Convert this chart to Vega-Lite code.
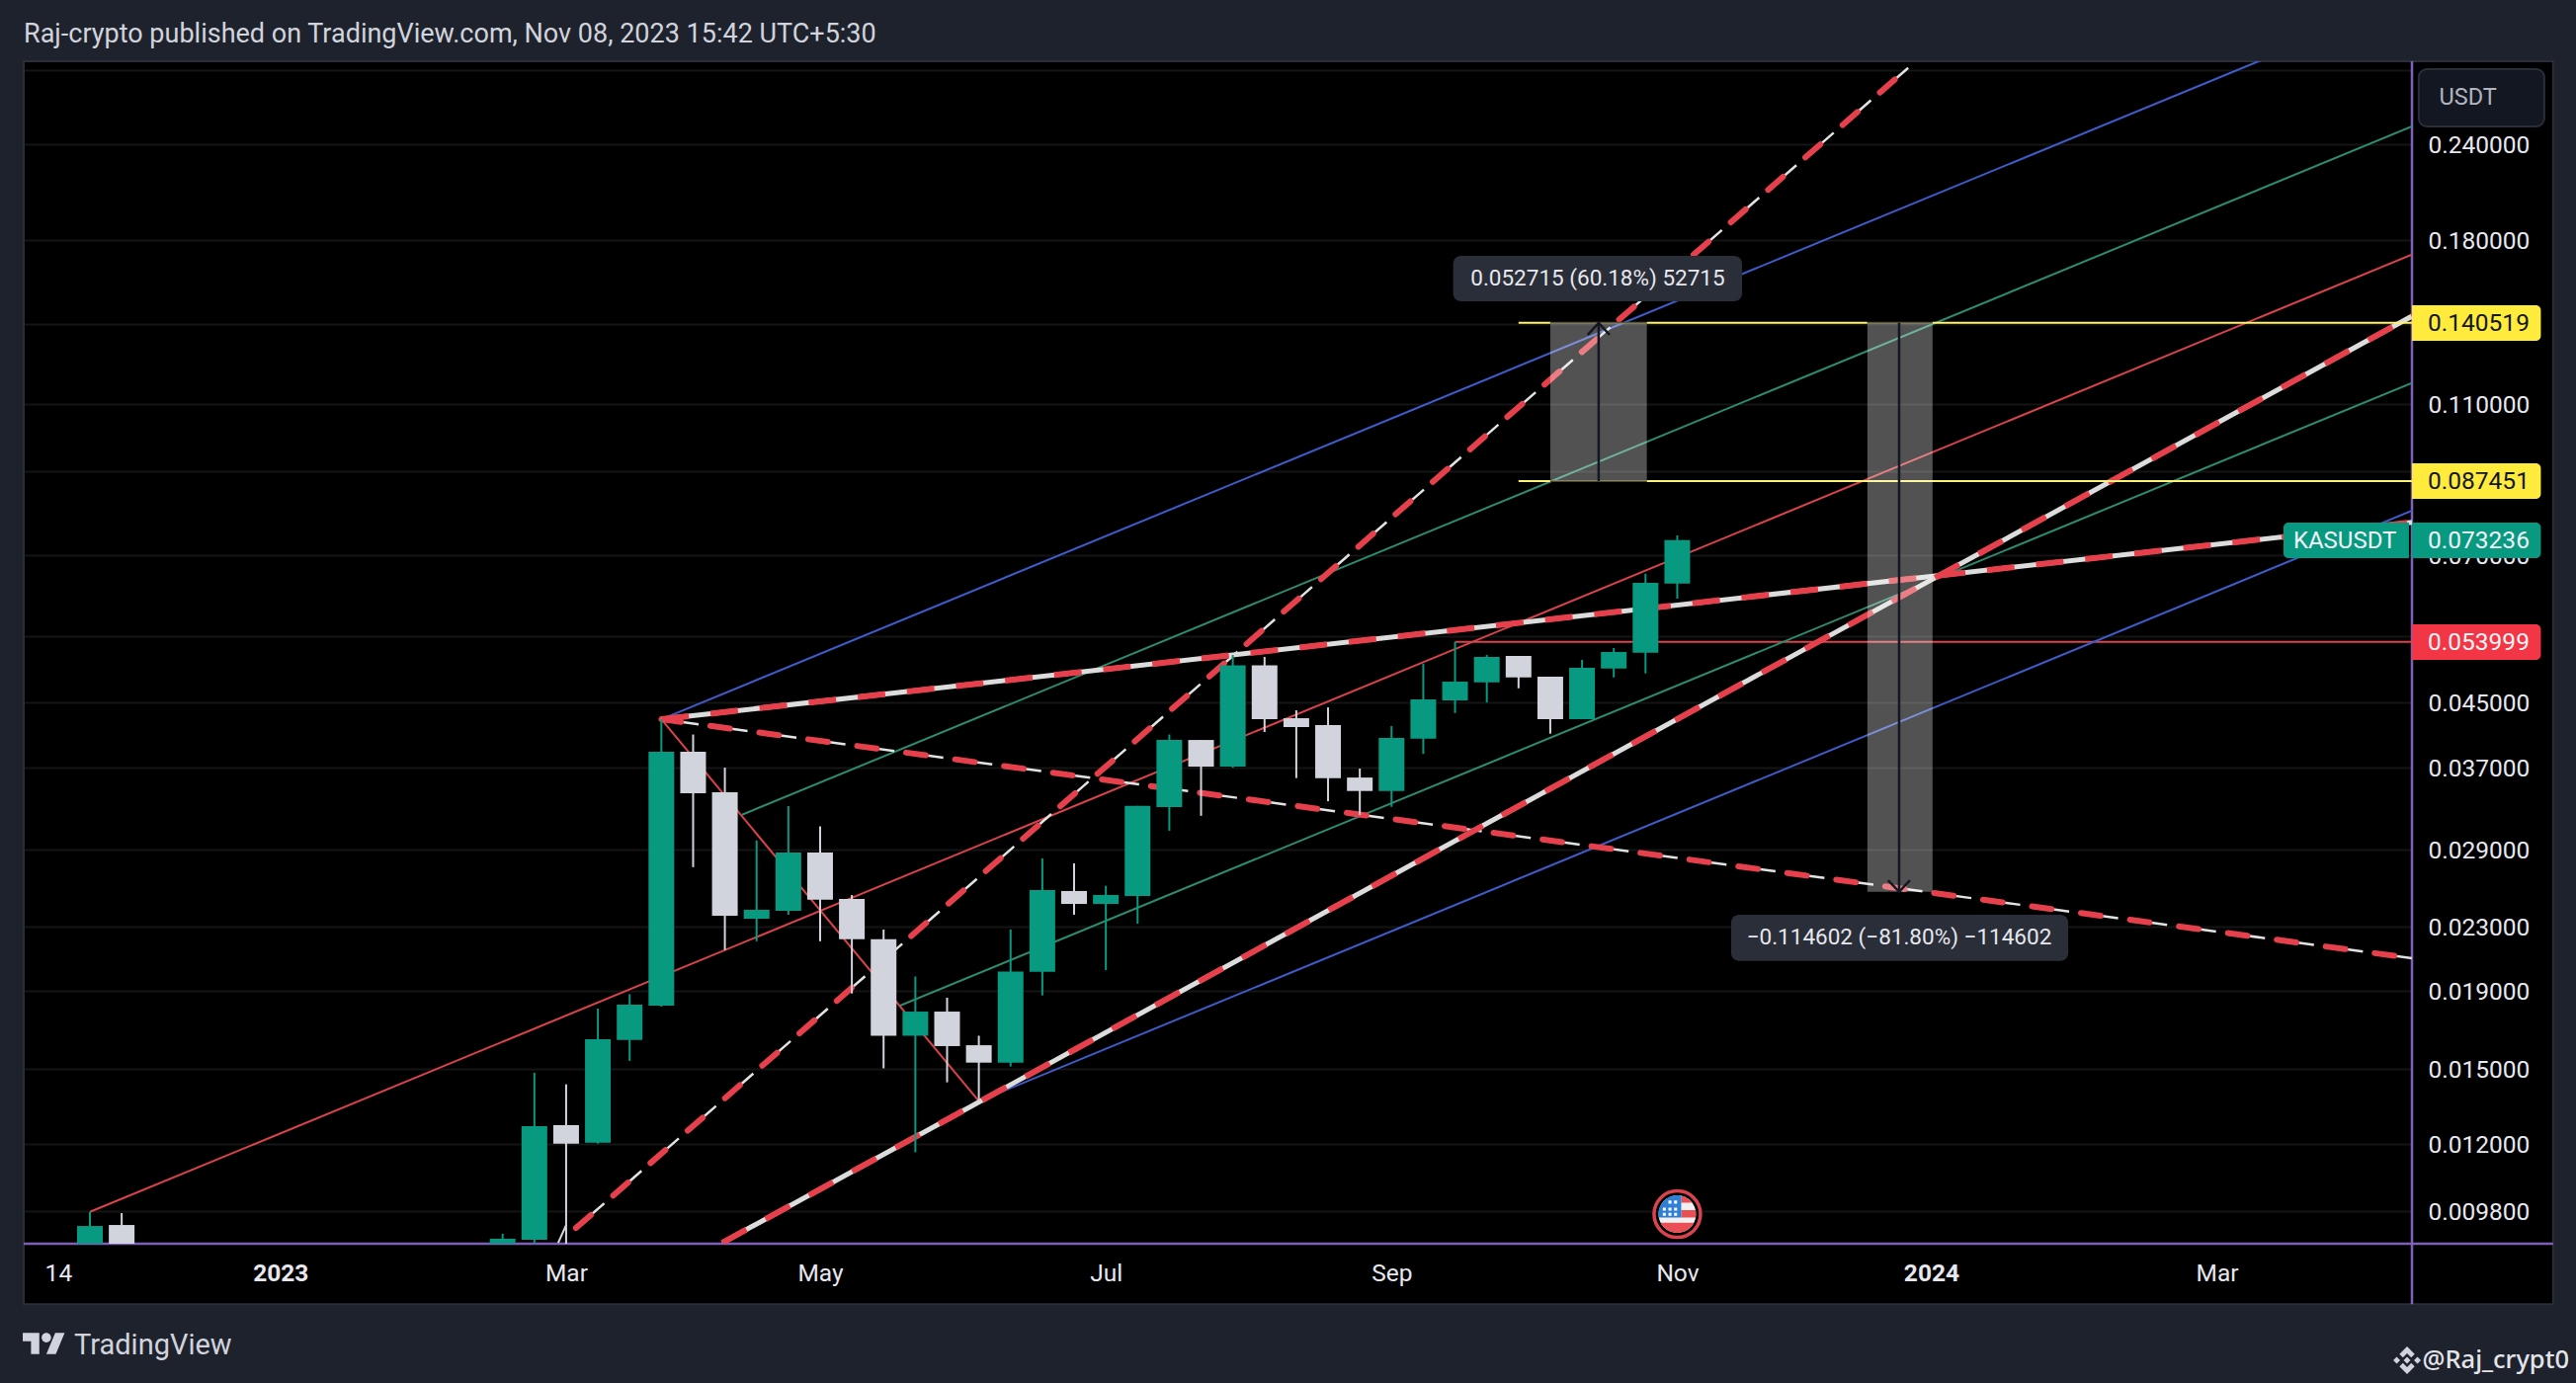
{
  "$schema": "https://vega.github.io/schema/vega-lite/v6.json",
  "width": 2417,
  "height": 1197,
  "autosize": {"type": "none"},
  "padding": {"left": 24, "top": 62, "right": 166, "bottom": 141},
  "background": "#000000",
  "config": {"view": {"stroke": null}},
  "datasets": {
    "chrome": [
      {"date": "2022-06-01T00:00:00Z", "date2": "2022-10-30T09:36:00Z", "price": 0.0001, "price2": 10},
      {"date": "2024-05-10T03:00:00Z", "date2": "2025-06-01T00:00:00Z", "price": 0.0001, "price2": 10},
      {"date": "2022-06-01T00:00:00Z", "date2": "2025-06-01T00:00:00Z", "price": 0.3078, "price2": 10},
      {"date": "2022-06-01T00:00:00Z", "date2": "2025-06-01T00:00:00Z", "price": 0.0001, "price2": 0.007418}
    ],
    "caption": [
      {"date": "2022-10-30T09:36:00Z", "price": 0.33341, "label": "Raj-crypto published on TradingView.com, Nov 08, 2023 15:42 UTC+5:30"}
    ],
    "panel": [
      {"date": "2022-10-30T09:36:00Z", "date2": "2024-05-10T03:00:00Z", "price": 0.3078, "price2": 0.007418}
    ],
    "hframe": [
      {"date": "2022-10-30T09:36:00Z", "date2": "2024-05-10T03:00:00Z", "price": 0.00889}
    ],
    "vframe": [
      {"date": "2024-04-09T00:00:00Z", "price": 0.3078, "price2": 0.007418}
    ],
    "thin": [
      {"id": "r1", "kind": "red", "date": "2022-11-14T00:00:00Z", "price": 0.00978},
      {"id": "r1", "kind": "red", "date": "2024-04-09T00:00:00Z", "price": 0.17246},
      {"id": "r2", "kind": "red", "date": "2023-03-20T00:00:00Z", "price": 0.042826},
      {"id": "r2", "kind": "red", "date": "2023-05-29T00:00:00Z", "price": 0.01363},
      {"id": "r3", "kind": "red", "date": "2023-09-11T00:00:00Z", "price": 0.053999},
      {"id": "r3", "kind": "red", "date": "2024-04-09T00:00:00Z", "price": 0.053999},
      {"id": "b1", "kind": "blue", "date": "2023-03-20T00:00:00Z", "price": 0.042826},
      {"id": "b1", "kind": "blue", "date": "2024-04-09T00:00:00Z", "price": 0.372},
      {"id": "b2", "kind": "blue", "date": "2023-05-29T00:00:00Z", "price": 0.01363},
      {"id": "b2", "kind": "blue", "date": "2024-04-09T00:00:00Z", "price": 0.08},
      {"id": "g1", "kind": "green", "date": "2023-04-06T19:00:00Z", "price": 0.032165},
      {"id": "g1", "kind": "green", "date": "2024-04-09T00:00:00Z", "price": 0.25315},
      {"id": "g2", "kind": "green", "date": "2023-05-11T15:00:00Z", "price": 0.018149},
      {"id": "g2", "kind": "green", "date": "2024-04-09T00:00:00Z", "price": 0.11738},
      {"id": "w1", "kind": "white", "date": "2023-02-25T06:00:00Z", "price": 0.008913},
      {"id": "w1", "kind": "white", "date": "2023-02-27T00:00:00Z", "price": 0.0094}
    ],
    "dashed": [
      {"id": "d1", "date": "2023-03-01T04:00:00Z", "price": 0.00932},
      {"id": "d1", "date": "2023-12-21T14:00:00Z", "price": 0.30777},
      {"id": "d4", "date": "2023-03-20T00:00:00Z", "price": 0.042826},
      {"id": "d4", "date": "2024-04-09T00:00:00Z", "price": 0.020918}
    ],
    "banded": [
      {"id": "d2", "date": "2023-04-02T10:00:00Z", "price": 0.008913},
      {"id": "d2", "date": "2024-04-09T00:00:00Z", "price": 0.14336},
      {"id": "d3", "date": "2023-03-20T00:00:00Z", "price": 0.042826},
      {"id": "d3", "date": "2024-04-09T00:00:00Z", "price": 0.07726}
    ],
    "levels": [
      {"kind": "bright", "date": "2023-09-25T00:00:00Z", "date2": "2023-10-02T00:00:00Z", "price": 0.140519},
      {"kind": "dim", "date": "2023-10-02T00:00:00Z", "date2": "2023-10-23T07:00:00Z", "price": 0.140519},
      {"kind": "bright", "date": "2023-10-23T07:00:00Z", "date2": "2023-12-10T22:00:00Z", "price": 0.140519},
      {"kind": "dim", "date": "2023-12-10T22:00:00Z", "date2": "2023-12-25T07:00:00Z", "price": 0.140519},
      {"kind": "bright", "date": "2023-12-25T07:00:00Z", "date2": "2024-04-09T00:00:00Z", "price": 0.140519},
      {"kind": "bright", "date": "2023-09-25T00:00:00Z", "date2": "2023-10-02T00:00:00Z", "price": 0.087451},
      {"kind": "dim", "date": "2023-10-02T00:00:00Z", "date2": "2023-10-23T07:00:00Z", "price": 0.087451},
      {"kind": "bright", "date": "2023-10-23T07:00:00Z", "date2": "2024-04-09T00:00:00Z", "price": 0.087451}
    ],
    "ranges": [
      {"date": "2023-10-02T00:00:00Z", "date2": "2023-10-23T07:00:00Z", "mid": "2023-10-12T16:00:00Z", "price": 0.140519, "price2": 0.087451},
      {"date": "2023-12-10T22:00:00Z", "date2": "2023-12-25T07:00:00Z", "mid": "2023-12-17T22:00:00Z", "price": 0.140519, "price2": 0.02553}
    ],
    "arrows": [
      {"id": "up", "date": "2023-10-10T06:00:00Z", "price": 0.13553},
      {"id": "up", "date": "2023-10-12T16:00:00Z", "price": 0.140519},
      {"id": "up", "date": "2023-10-15T02:00:00Z", "price": 0.13553},
      {"id": "down", "date": "2023-12-15T12:00:00Z", "price": 0.026427},
      {"id": "down", "date": "2023-12-17T22:00:00Z", "price": 0.02553},
      {"id": "down", "date": "2023-12-20T07:00:00Z", "price": 0.026427}
    ],
    "candles": [
      {"date": "2022-11-14", "o": 0.00848, "h": 0.00978, "l": 0.00848, "c": 0.009375},
      {"date": "2022-11-21", "o": 0.009403, "h": 0.009745, "l": 0.00848, "c": 0.00848},
      {"date": "2023-02-13", "o": 0.00848, "h": 0.009158, "l": 0.00848, "c": 0.009024},
      {"date": "2023-02-20", "o": 0.008998, "h": 0.014839, "l": 0.0085, "c": 0.012649},
      {"date": "2023-02-27", "o": 0.012684, "h": 0.014334, "l": 0.0085, "c": 0.011998},
      {"date": "2023-03-06", "o": 0.012033, "h": 0.017988, "l": 0.012, "c": 0.016409},
      {"date": "2023-03-13", "o": 0.016375, "h": 0.018783, "l": 0.01538, "c": 0.018204},
      {"date": "2023-03-20", "o": 0.018149, "h": 0.042826, "l": 0.018096, "c": 0.038842},
      {"date": "2023-03-27", "o": 0.038842, "h": 0.040905, "l": 0.027487, "c": 0.034298},
      {"date": "2023-04-03", "o": 0.034402, "h": 0.037044, "l": 0.021439, "c": 0.023762},
      {"date": "2023-04-10", "o": 0.023551, "h": 0.029782, "l": 0.02201, "c": 0.02419},
      {"date": "2023-04-17", "o": 0.02412, "h": 0.033005, "l": 0.023834, "c": 0.028718},
      {"date": "2023-04-24", "o": 0.028718, "h": 0.031063, "l": 0.02201, "c": 0.024929},
      {"date": "2023-05-01", "o": 0.024986, "h": 0.025286, "l": 0.018821, "c": 0.022154},
      {"date": "2023-05-08", "o": 0.022154, "h": 0.0228, "l": 0.015038, "c": 0.016582},
      {"date": "2023-05-15", "o": 0.016582, "h": 0.019805, "l": 0.011693, "c": 0.017827},
      {"date": "2023-05-22", "o": 0.017827, "h": 0.018583, "l": 0.014422, "c": 0.016075},
      {"date": "2023-05-29", "o": 0.016118, "h": 0.016582, "l": 0.01363, "c": 0.015298},
      {"date": "2023-06-05", "o": 0.015298, "h": 0.0228, "l": 0.015122, "c": 0.020098},
      {"date": "2023-06-12", "o": 0.02008, "h": 0.028212, "l": 0.018713, "c": 0.025661},
      {"date": "2023-06-19", "o": 0.025591, "h": 0.027797, "l": 0.023834, "c": 0.024617},
      {"date": "2023-06-26", "o": 0.024617, "h": 0.025994, "l": 0.020186, "c": 0.025286},
      {"date": "2023-07-03", "o": 0.02521, "h": 0.033024, "l": 0.023206, "c": 0.033024},
      {"date": "2023-07-10", "o": 0.032906, "h": 0.040905, "l": 0.030655, "c": 0.040243},
      {"date": "2023-07-17", "o": 0.040243, "h": 0.040243, "l": 0.03206, "c": 0.03715},
      {"date": "2023-07-24", "o": 0.03715, "h": 0.051919, "l": 0.037044, "c": 0.05033},
      {"date": "2023-07-31", "o": 0.05033, "h": 0.051614, "l": 0.041213, "c": 0.042826},
      {"date": "2023-08-07", "o": 0.042955, "h": 0.043982, "l": 0.035897, "c": 0.041827},
      {"date": "2023-08-14", "o": 0.042067, "h": 0.044371, "l": 0.033492, "c": 0.035897},
      {"date": "2023-08-21", "o": 0.035957, "h": 0.036934, "l": 0.032126, "c": 0.034534},
      {"date": "2023-08-28", "o": 0.034534, "h": 0.041945, "l": 0.032933, "c": 0.04049},
      {"date": "2023-09-04", "o": 0.040411, "h": 0.050551, "l": 0.038609, "c": 0.045442},
      {"date": "2023-09-11", "o": 0.045305, "h": 0.053999, "l": 0.043632, "c": 0.04793},
      {"date": "2023-09-18", "o": 0.04783, "h": 0.051919, "l": 0.04503, "c": 0.051614},
      {"date": "2023-09-25", "o": 0.051768, "h": 0.051768, "l": 0.046985, "c": 0.048545},
      {"date": "2023-10-02", "o": 0.048648, "h": 0.048648, "l": 0.041006, "c": 0.042826},
      {"date": "2023-10-09", "o": 0.042826, "h": 0.051158, "l": 0.042826, "c": 0.04996},
      {"date": "2023-10-16", "o": 0.049855, "h": 0.053009, "l": 0.048545, "c": 0.052385},
      {"date": "2023-10-23", "o": 0.052279, "h": 0.066245, "l": 0.049123, "c": 0.06445},
      {"date": "2023-10-30", "o": 0.064313, "h": 0.07429, "l": 0.061469, "c": 0.073236}
    ],
    "callouts": [
      {"date": "2023-09-10T14:00:00Z", "date2": "2023-11-13T07:00:00Z", "top": 0.17174, "bottom": 0.14988, "mid": "2023-10-12T11:00:00Z", "price": 0.16044, "label": "0.052715 (60.18%) 52715"},
      {"date": "2023-11-10T21:00:00Z", "date2": "2024-01-24T05:00:00Z", "top": 0.023834, "bottom": 0.020753, "mid": "2023-12-17T22:00:00Z", "price": 0.022255, "label": "\u22120.114602 (\u221281.80%) \u2212114602"}
    ],
    "badges": [
      {"kind": "yellow", "date": "2024-04-09T00:00:00Z", "date2": "2024-05-07T10:00:00Z", "top": 0.1481, "bottom": 0.13313, "textDate": "2024-04-12T12:00:00Z", "price": 0.140519, "label": "0.140519"},
      {"kind": "yellow", "date": "2024-04-09T00:00:00Z", "date2": "2024-05-07T10:00:00Z", "top": 0.09223, "bottom": 0.0829, "textDate": "2024-04-12T12:00:00Z", "price": 0.087451, "label": "0.087451"},
      {"kind": "green", "date": "2024-04-09T00:00:00Z", "date2": "2024-05-07T10:00:00Z", "top": 0.07721, "bottom": 0.0694, "textDate": "2024-04-12T12:00:00Z", "price": 0.073236, "label": "0.073236"},
      {"kind": "red", "date": "2024-04-09T00:00:00Z", "date2": "2024-05-07T10:00:00Z", "top": 0.0569, "bottom": 0.05116, "textDate": "2024-04-12T12:00:00Z", "price": 0.053999, "label": "0.053999"}
    ],
    "symbolBadge": [
      {"date": "2024-03-11T16:00:00Z", "date2": "2024-04-08T08:00:00Z", "top": 0.07721, "bottom": 0.0694, "textDate": "2024-03-13T20:00:00Z", "price": 0.073236, "label": "KASUSDT"}
    ],
    "currency": [
      {"date": "2024-04-10T12:00:00Z", "date2": "2024-05-08T04:00:00Z", "top": 0.30058, "bottom": 0.25315, "textDate": "2024-04-15T00:00:00Z", "price": 0.27583, "label": "USDT"}
    ],
    "flag": [{"date": "2023-10-30T00:00:00Z", "price": 0.009715}],
    "logo": [{"date": "2022-11-03T21:00:00Z", "price": 0.00659}],
    "brand": [{"date": "2022-11-10T12:00:00Z", "price": 0.006552, "label": "TradingView"}],
    "binance": [{"date": "2024-04-07T22:00:00Z", "price": 0.006269}],
    "handle": [{"date": "2024-04-11T07:00:00Z", "price": 0.006269, "label": "@Raj_crypt0"}]
  },
  "resolve": {"scale": {"color": "independent"}},
  "encoding": {
    "x": {
      "field": "date",
      "type": "temporal",
      "title": null,
      "scale": {"type": "utc", "domain": ["2022-10-30T09:36:00Z", "2024-04-09T00:00:00Z"], "nice": false, "padding": 0},
      "axis": {
        "orient": "bottom",
        "title": null,
        "domain": false,
        "ticks": false,
        "grid": false,
        "values": ["2022-11-07T00:00:00Z", "2022-12-26T00:00:00Z", "2023-02-27T00:00:00Z", "2023-04-24T00:00:00Z", "2023-06-26T00:00:00Z", "2023-08-28T00:00:00Z", "2023-10-30T00:00:00Z", "2023-12-25T00:00:00Z", "2024-02-26T00:00:00Z"],
        "labelExpr": "{'2022-11-07':'14','2022-12-26':'2023','2023-02-27':'Mar','2023-04-24':'May','2023-06-26':'Jul','2023-08-28':'Sep','2023-10-30':'Nov','2023-12-25':'2024','2024-02-26':'Mar'}[utcFormat(datum.value,'%Y-%m-%d')]",
        "labelFontWeight": {"condition": {"test": "utcmonth(datum.value)==11", "value": 700}, "value": 400},
        "labelFont": "Roboto",
        "labelFontSize": 24.5,
        "labelColor": "#e6e8ee",
        "labelPadding": 18,
        "labelOverlap": false,
        "labelFlush": false
      }
    },
    "y": {
      "field": "price",
      "type": "quantitative",
      "title": null,
      "scale": {"type": "log", "domain": [0.00889, 0.3078], "nice": false},
      "axis": {
        "orient": "right",
        "title": null,
        "domain": false,
        "ticks": false,
        "grid": true,
        "gridColor": "#151515",
        "gridWidth": 2,
        "values": [0.3, 0.24, 0.18, 0.14, 0.11, 0.09, 0.07, 0.055, 0.045, 0.037, 0.029, 0.023, 0.019, 0.015, 0.012, 0.0098],
        "labelExpr": "datum.value == 0.3 || datum.value == 0.14 || datum.value == 0.09 || datum.value == 0.055 ? '' : format(datum.value, '.6f')",
        "labelFont": "Roboto",
        "labelFontSize": 24.5,
        "labelColor": "#e6e8ee",
        "labelPadding": 16,
        "labelOffset": 1.5,
        "labelOverlap": false,
        "labelFlush": false,
        "labelBound": false
      }
    }
  },
  "layer": [
    {
      "data": {"name": "chrome"},
      "mark": {"type": "rect", "fill": "#1e222d"},
      "encoding": {"x2": {"field": "date2"}, "y2": {"field": "price2"}}
    },
    {
      "data": {"name": "caption"},
      "mark": {"type": "text", "font": "Roboto", "fontSize": 27, "color": "#d1d4dc", "align": "left", "baseline": "middle"},
      "encoding": {"text": {"field": "label"}}
    },
    {
      "data": {"name": "panel"},
      "mark": {"type": "rect", "fill": null, "stroke": "#2a2e39", "strokeWidth": 2},
      "encoding": {"x2": {"field": "date2"}, "y2": {"field": "price2"}}
    },
    {
      "data": {"name": "hframe"},
      "mark": {"type": "rule", "color": "#7e60b8", "strokeWidth": 2.5},
      "encoding": {"x2": {"field": "date2"}}
    },
    {
      "data": {"name": "vframe"},
      "mark": {"type": "rule", "color": "#7e60b8", "strokeWidth": 2.5},
      "encoding": {"y2": {"field": "price2"}}
    },
    {
      "data": {"name": "thin"},
      "mark": {"type": "line", "clip": true, "strokeWidth": 2},
      "encoding": {
        "detail": {"field": "id"},
        "color": {
          "field": "kind",
          "type": "nominal",
          "legend": null,
          "scale": {"domain": ["red", "blue", "green", "white"], "range": ["#d9434b", "#3f5bc8", "#2e8b6f", "#dcdcdc"]}
        }
      }
    },
    {
      "data": {"name": "dashed"},
      "mark": {"type": "line", "clip": true, "strokeWidth": 2.5, "color": "#e2e2e2", "strokeDash": [38, 12]},
      "encoding": {"detail": {"field": "id"}}
    },
    {
      "data": {"name": "dashed"},
      "mark": {"type": "line", "clip": true, "strokeWidth": 6, "strokeCap": "round", "color": "#e5404b", "strokeDash": [20, 30]},
      "encoding": {"detail": {"field": "id"}}
    },
    {
      "data": {"name": "banded"},
      "mark": {"type": "line", "clip": true, "strokeWidth": 5, "color": "#dcdcdc"},
      "encoding": {"detail": {"field": "id"}}
    },
    {
      "data": {"name": "banded"},
      "mark": {"type": "line", "clip": true, "strokeWidth": 6, "color": "#e5404b", "strokeDash": [28, 22]},
      "encoding": {"detail": {"field": "id"}}
    },
    {
      "data": {"name": "levels"},
      "mark": {"type": "rule", "strokeWidth": 2, "clip": true},
      "encoding": {
        "x2": {"field": "date2"},
        "color": {
          "field": "kind",
          "type": "nominal",
          "legend": null,
          "scale": {"domain": ["bright", "dim"], "range": ["#fff176", "#4a4824"]}
        }
      }
    },
    {
      "data": {"name": "ranges"},
      "mark": {"type": "rect", "color": "#ffffff", "opacity": 0.32},
      "encoding": {"x2": {"field": "date2"}, "y2": {"field": "price2"}}
    },
    {
      "data": {"name": "ranges"},
      "mark": {"type": "rule", "color": "#131722", "strokeWidth": 2.5},
      "encoding": {"x": {"field": "mid", "type": "temporal"}, "y2": {"field": "price2"}}
    },
    {
      "data": {"name": "arrows"},
      "mark": {"type": "line", "color": "#131722", "strokeWidth": 2.5},
      "encoding": {"detail": {"field": "id"}}
    },
    {
      "data": {"name": "candles"},
      "mark": {"type": "rule", "strokeWidth": 2, "clip": true},
      "encoding": {
        "y": {"field": "l", "type": "quantitative"},
        "y2": {"field": "h"},
        "color": {"condition": {"test": "datum.c >= datum.o", "value": "#089981"}, "value": "#d1d4dc"}
      }
    },
    {
      "data": {"name": "candles"},
      "mark": {"type": "bar", "size": 26, "clip": true},
      "encoding": {
        "y": {"field": "o", "type": "quantitative"},
        "y2": {"field": "c"},
        "color": {"condition": {"test": "datum.c >= datum.o", "value": "#089981"}, "value": "#d1d4dc"}
      }
    },
    {
      "data": {"name": "callouts"},
      "mark": {"type": "rect", "fill": "#2a2e39", "cornerRadius": 8},
      "encoding": {"y": {"field": "top", "type": "quantitative"}, "x2": {"field": "date2"}, "y2": {"field": "bottom"}}
    },
    {
      "data": {"name": "callouts"},
      "mark": {"type": "text", "font": "Roboto", "fontSize": 22.5, "color": "#e6e8ee", "align": "center", "baseline": "middle"},
      "encoding": {"x": {"field": "mid", "type": "temporal"}, "text": {"field": "label"}}
    },
    {
      "data": {"name": "badges"},
      "mark": {"type": "rect", "cornerRadiusTopRight": 5, "cornerRadiusBottomRight": 5},
      "encoding": {
        "y": {"field": "top", "type": "quantitative"},
        "x2": {"field": "date2"},
        "y2": {"field": "bottom"},
        "color": {
          "field": "kind",
          "type": "nominal",
          "legend": null,
          "scale": {"domain": ["yellow", "green", "red"], "range": ["#ffeb3b", "#089981", "#f23645"]}
        }
      }
    },
    {
      "data": {"name": "badges"},
      "mark": {"type": "text", "font": "Roboto", "fontSize": 24.5, "align": "left", "baseline": "middle", "dy": 1.5},
      "encoding": {
        "x": {"field": "textDate", "type": "temporal"},
        "text": {"field": "label"},
        "color": {"condition": {"test": "datum.kind == 'yellow'", "value": "#131722"}, "value": "#f2f3f6"}
      }
    },
    {
      "data": {"name": "symbolBadge"},
      "mark": {"type": "rect", "fill": "#089981", "cornerRadiusTopLeft": 5, "cornerRadiusBottomLeft": 5},
      "encoding": {"y": {"field": "top", "type": "quantitative"}, "x2": {"field": "date2"}, "y2": {"field": "bottom"}}
    },
    {
      "data": {"name": "symbolBadge"},
      "mark": {"type": "text", "font": "Roboto", "fontSize": 24, "color": "#f2f3f6", "align": "left", "baseline": "middle", "dy": 1.5},
      "encoding": {"x": {"field": "textDate", "type": "temporal"}, "text": {"field": "label"}}
    },
    {
      "data": {"name": "currency"},
      "mark": {"type": "rect", "fill": "#131722", "stroke": "#2a2e39", "strokeWidth": 2, "cornerRadius": 8},
      "encoding": {"y": {"field": "top", "type": "quantitative"}, "x2": {"field": "date2"}, "y2": {"field": "bottom"}}
    },
    {
      "data": {"name": "currency"},
      "mark": {"type": "text", "font": "Roboto", "fontSize": 23.5, "color": "#b2b5be", "align": "left", "baseline": "middle"},
      "encoding": {"x": {"field": "textDate", "type": "temporal"}, "text": {"field": "label"}}
    },
    {
      "data": {"name": "flag"},
      "mark": {"type": "point", "shape": "circle", "filled": false, "stroke": "#d9434e", "strokeWidth": 3.5, "opacity": 1, "size": 2209},
      "encoding": {}
    },
    {
      "data": {"name": "flag"},
      "mark": {"type": "point", "shape": "circle", "filled": true, "fill": "#f0f0f0", "opacity": 1, "strokeWidth": 0, "size": 1444},
      "encoding": {}
    },
    {
      "data": {"name": "flag"},
      "mark": {
        "type": "point",
        "filled": true,
        "fill": "#ea4f56",
        "opacity": 1,
        "strokeWidth": 0,
        "size": 1444,
        "shape": "M0.21,-0.977 L0.21,-0.61 L0.79,-0.61 A1 1 0 0 0 0.21,-0.977 Z M0.21,-0.21 L0.975,-0.21 L0.98,0.18 L0.21,0.18 Z M-0.888,0.46 L0.888,0.46 A1 1 0 0 1 -0.888,0.46 Z"
      },
      "encoding": {}
    },
    {
      "data": {"name": "flag"},
      "mark": {
        "type": "point",
        "filled": true,
        "fill": "#2e7fd6",
        "opacity": 1,
        "strokeWidth": 0,
        "size": 1444,
        "shape": "M0.21,-0.977 L0.21,0.18 L-0.984,0.18 A1 1 0 0 1 0.21,-0.977 Z"
      },
      "encoding": {}
    },
    {
      "data": {"name": "flag"},
      "mark": {
        "type": "point",
        "filled": true,
        "fill": "#ffffff",
        "opacity": 1,
        "strokeWidth": 0,
        "size": 1444,
        "shape": "M-0.47,-0.72h0.16v0.16h-0.16z M-0.17,-0.72h0.16v0.16h-0.16z M-0.77,-0.35h0.16v0.16h-0.16z M-0.47,-0.35h0.16v0.16h-0.16z M-0.17,-0.35h0.16v0.16h-0.16z M-0.77,-0.07h0.16v0.16h-0.16z M-0.47,-0.07h0.16v0.16h-0.16z M-0.17,-0.07h0.16v0.16h-0.16z"
      },
      "encoding": {}
    },
    {
      "data": {"name": "logo"},
      "mark": {
        "type": "point",
        "filled": true,
        "fill": "#d1d4dc",
        "opacity": 1,
        "strokeWidth": 0,
        "size": 1849,
        "shape": "M-0.222,0.5 L-0.611,0.5 L-0.611,-0.111 L-1,-0.111 L-1,-0.5 L-0.222,-0.5 Z M0.556,0.5 L0.111,0.5 L0.528,-0.5 L0.972,-0.5 Z M0.111,-0.5 A0.222,0.222 0 1 1 0.111,-0.056 A0.222,0.222 0 1 1 0.111,-0.5 Z"
      },
      "encoding": {}
    },
    {
      "data": {"name": "brand"},
      "mark": {"type": "text", "font": "Roboto", "fontSize": 29, "color": "#d1d4dc", "align": "left", "baseline": "middle"},
      "encoding": {"text": {"field": "label"}}
    },
    {
      "data": {"name": "binance"},
      "mark": {
        "type": "point",
        "filled": true,
        "fill": "#d1d4dc",
        "opacity": 1,
        "strokeWidth": 0,
        "size": 784,
        "shape": "M0,-0.25 L0.25,0 L0,0.25 L-0.25,0 Z M-1,0 L-0.75,-0.25 L-0.5,0 L-0.75,0.25 Z M1,0 L0.75,-0.25 L0.5,0 L0.75,0.25 Z M0,-1 L0.55,-0.45 L0.3,-0.2 L0,-0.5 L-0.3,-0.2 L-0.55,-0.45 Z M0,1 L0.55,0.45 L0.3,0.2 L0,0.5 L-0.3,0.2 L-0.55,0.45 Z"
      },
      "encoding": {}
    },
    {
      "data": {"name": "handle"},
      "mark": {"type": "text", "font": "Noto Sans", "fontWeight": 500, "fontSize": 25.5, "color": "#e3e5ea", "align": "left", "baseline": "middle"},
      "encoding": {"text": {"field": "label"}}
    }
  ]
}
